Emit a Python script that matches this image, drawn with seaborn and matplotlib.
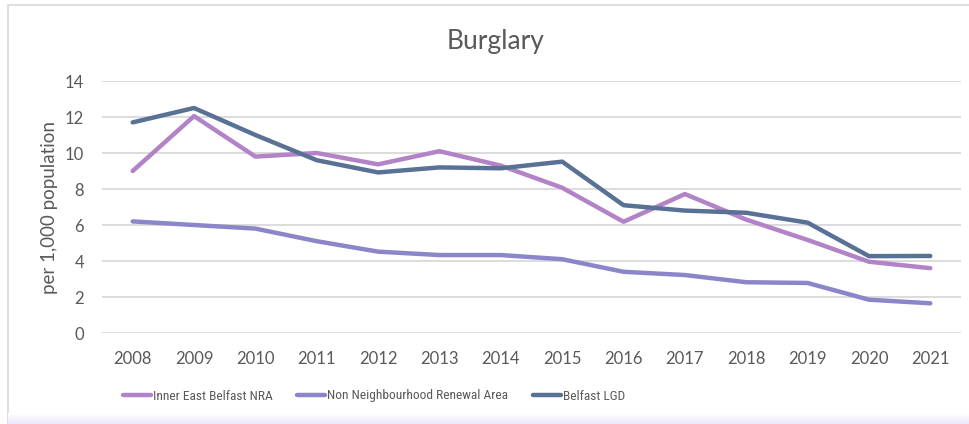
import matplotlib
matplotlib.use("Agg")
import matplotlib.pyplot as plt
import seaborn as sns
import pandas as pd
from matplotlib.patches import Rectangle
from matplotlib import font_manager
import numpy as np

years = [str(y) for y in range(2008, 2022)]
inner_east = [9.0, 12.05, 9.8, 10.0, 9.37, 10.1, 9.3, 8.07, 6.18, 7.72, 6.3, 5.17, 3.96, 3.6]
non_nra = [6.2, 6.0, 5.8, 5.1, 4.52, 4.33, 4.33, 4.1, 3.4, 3.22, 2.82, 2.78, 1.85, 1.65]
belfast_lgd = [11.7, 12.5, 11.0, 9.6, 8.92, 9.2, 9.15, 9.52, 7.1, 6.8, 6.68, 6.13, 4.27, 4.28]
series_names = ["Inner East Belfast NRA", "Non Neighbourhood Renewal Area", "Belfast LGD"]
colors = ["#B283C6", "#8B86C9", "#5A7196"]

df = pd.DataFrame({
    "year": years * 3,
    "value": inner_east + non_nra + belfast_lgd,
    "series": [series_names[0]] * 14 + [series_names[1]] * 14 + [series_names[2]] * 14,
})

sns.set_theme(style="white")
plt.rcParams["font.family"] = ["Lato", "DejaVu Sans"]
text_color = "#595959"

# a regular-weight narrow face for the legend, if one is installed
legend_prop = None
for cand in ["Liberation Sans Narrow", "DejaVu Sans Condensed", "Roboto Condensed"]:
    faces = [f for f in font_manager.fontManager.ttflist
             if f.name == cand and f.style == "normal"
             and (f.weight in (400, "normal", "regular", "book"))]
    if faces:
        legend_prop = font_manager.FontProperties(fname=faces[0].fname, size=9.6)
        break
if legend_prop is None:
    legend_prop = font_manager.FontProperties(family="Lato", size=9.0)
legend_size = legend_prop.get_size_in_points()

fig = plt.figure(figsize=(9.69, 4.24), dpi=100)
ax = fig.add_axes([102 / 969, 1 - 333 / 424, (961 - 102) / 969, (333 - 81) / 424])

# chart frame and soft lavender band along the bottom
fig.patches.append(Rectangle((8 / 969, 0), 1.2, 1 - 5 / 424, transform=fig.transFigure,
                             fill=False, edgecolor="#D9D9D9", lw=1.2, zorder=0))
for i, t in enumerate(np.linspace(0, 1, 22)):
    fig.patches.append(Rectangle((8 / 969, (i * 0.5) / 424), 1.0, 0.5 / 424, transform=fig.transFigure,
                                 facecolor=(0.93 + 0.07 * t, 0.90 + 0.10 * t, 0.98 + 0.02 * t),
                                 edgecolor="none", zorder=0))

sns.lineplot(data=df, x="year", y="value", hue="series", palette=colors, sort=False,
             linewidth=3.2, ax=ax, legend=True)
for ln in ax.lines:
    ln.set_solid_capstyle("round")

ax.set_xlim(-0.5, 13.5)
ax.set_ylim(0, 14)
ax.set_yticks(range(0, 15, 2))
ax.yaxis.grid(True, color="#D9D9D9", lw=1.3)
ax.xaxis.grid(False)
for s in ax.spines.values():
    s.set_visible(False)
ax.tick_params(axis="both", length=0, labelsize=12, labelcolor=text_color)
ax.tick_params(axis="x", pad=13)
ax.tick_params(axis="y", pad=13)
ax.set_xlabel("")
ax.set_ylabel("per 1,000 population", fontsize=13.5, color=text_color, labelpad=5)
fig.text(496 / 969, 1 - 42 / 424, "Burglary", fontsize=19, color=text_color,
         ha="center", va="center")

em_px = legend_size * 100 / 72
handles, labels = ax.get_legend_handles_labels()
leg = ax.legend(handles, labels, loc="center left", ncol=3,
                frameon=False, handlelength=28 / em_px,
                handletextpad=0.12, columnspacing=25 / em_px,
                borderaxespad=0, borderpad=0, prop=legend_prop)
for txt in leg.get_texts():
    txt.set_color(text_color)
leg.set_bbox_to_anchor((123 / 969, 1 - 396 / 424), transform=fig.transFigure)

fig.savefig("out.png", dpi=100)
